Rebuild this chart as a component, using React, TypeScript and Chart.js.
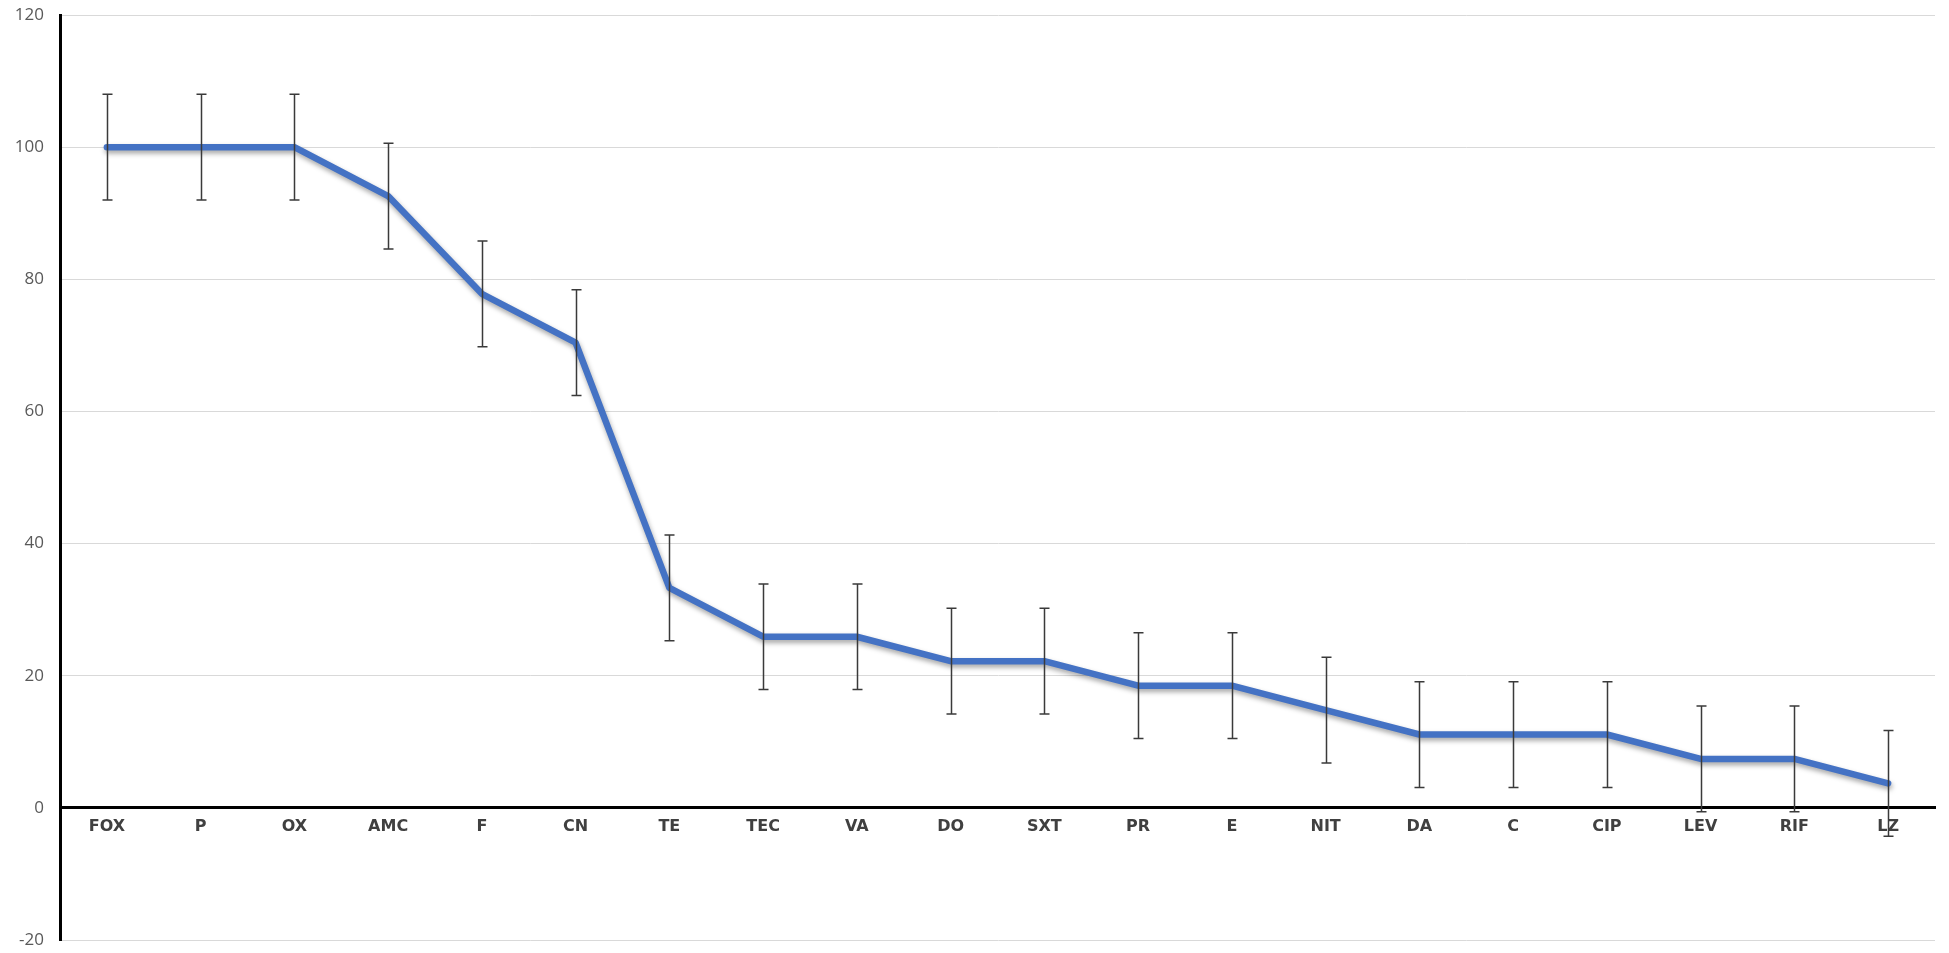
import React, { useEffect, useRef } from "react";
import { Chart, registerables } from "chart.js";

Chart.register(...registerables);

const categories = ["FOX", "P", "OX", "AMC", "F", "CN", "TE", "TEC", "VA", "DO", "SXT", "PR", "E", "NIT", "DA", "C", "CIP", "LEV", "RIF", "LZ"];
const values = [100, 100, 100, 92.6, 77.8, 70.4, 33.3, 25.9, 25.9, 22.2, 22.2, 18.5, 18.5, 14.8, 11.1, 11.1, 11.1, 7.4, 7.4, 3.7];
const errors = [8, 8, 8, 8, 8, 8, 8, 8, 8, 8, 8, 8, 8, 8, 8, 8, 8, 8, 8, 8];
const yTicks = [-20, 0, 20, 40, 60, 80, 100, 120];

const errorBarPlugin = {
  id: "errorBars",
  afterDatasetsDraw(chart: any) {
    const ctx = chart.ctx;
    const xs = chart.scales.x;
    const ys = chart.scales.y;
    ctx.save();
    ctx.strokeStyle = "#3a3a3a";
    ctx.lineWidth = 1.5;
    values.forEach((v, i) => {
      const x = Math.round(xs.getPixelForValue(i)) + 0.5;
      const yt = ys.getPixelForValue(v + errors[i]);
      const yb = ys.getPixelForValue(v - errors[i]);
      ctx.beginPath();
      ctx.moveTo(x, yt);
      ctx.lineTo(x, yb);
      ctx.moveTo(x - 5, yt);
      ctx.lineTo(x + 5, yt);
      ctx.moveTo(x - 5, yb);
      ctx.lineTo(x + 5, yb);
      ctx.stroke();
    });
    ctx.restore();
  },
};

const shadowPlugin = {
  id: "lineShadow",
  beforeDatasetDraw(chart: any) {
    const ctx = chart.ctx;
    ctx.save();
    ctx.shadowColor = "rgba(0,0,0,0.35)";
    ctx.shadowBlur = 5;
    ctx.shadowOffsetX = 1;
    ctx.shadowOffsetY = 3;
  },
  afterDatasetDraw(chart: any) {
    chart.ctx.restore();
  },
};

export default function App() {
  const ref = useRef<HTMLCanvasElement>(null);
  useEffect(() => {
    if (!ref.current) return;
    const chart = new Chart(ref.current, {
      type: "line",
      data: {
        labels: categories,
        datasets: [
          {
            data: values,
            borderColor: "#4472C4",
            borderWidth: 6.5,
            pointRadius: 0,
            tension: 0,
            borderCapStyle: "round",
            borderJoinStyle: "round",
            fill: false,
          },
        ],
      },
      options: {
        animation: false,
        responsive: false,
        layout: { padding: { top: 15, bottom: 13, right: 14, left: 0 } },
        plugins: { legend: { display: false }, tooltip: { enabled: false } },
        scales: {
          x: {
            type: "category",
            position: { y: 0 } as any,
            offset: true,
            afterFit(scale: any) {
              scale.paddingLeft = 0;
              scale.paddingRight = 0;
              scale.paddingTop = 0;
              scale.paddingBottom = 0;
            },
            grid: { display: false, drawTicks: false },
            border: { display: true, color: "#000000", width: 3 },
            ticks: {
              padding: 9,
              color: "#404040",
              font: { family: "DejaVu Sans", weight: "bold", size: 16 },
              maxRotation: 0,
              autoSkip: false,
            },
          },
          y: {
            min: -20,
            max: 120,
            afterFit(scale: any) {
              scale.width = 60;
              scale.paddingTop = 0;
              scale.paddingBottom = 0;
            },
            afterBuildTicks(scale: any) {
              scale.ticks = yTicks.map((v) => ({ value: v }));
            },
            grid: { color: "#d9d9d9", lineWidth: 1, drawTicks: false },
            border: { display: true, color: "#000000", width: 3 },
            ticks: {
              padding: 16,
              color: "#595959",
              font: { family: "Open Sans", size: 17 },
            },
          },
        },
      },
      plugins: [shadowPlugin, errorBarPlugin],
    });
    return () => chart.destroy();
  }, []);
  return (
    <div style={{ position: "absolute", left: 0, top: 0, width: 1949, height: 953, background: "#fff" }}>
      <canvas ref={ref} width={1949} height={953} style={{ display: "block" }} />
    </div>
  );
}
